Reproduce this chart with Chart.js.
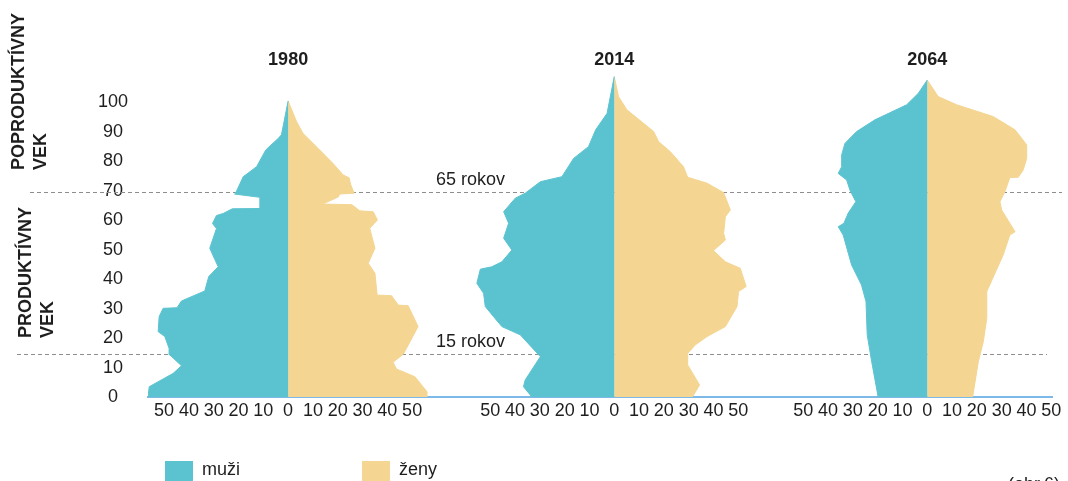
<!DOCTYPE html>
<html lang="sk">
<head>
<meta charset="utf-8">
<title>Veková pyramída 1980 – 2014 – 2064</title>
<script src="https://cdn.jsdelivr.net/npm/chart.js@4.4.1/dist/chart.umd.min.js"></script>
<style>
  html, body { margin: 0; padding: 0; background: #fff; }
  #wrap { width: 1068px; height: 481px; }
</style>
</head>
<body>
<div id="wrap"><canvas id="pyramid" width="1068" height="481"></canvas></div>
<script>
// --- data (age in years, population per age group) ---
const years = ['1980', '2014', '2064'];
const ageTicks = [0, 10, 20, 30, 40, 50, 60, 70, 80, 90, 100];
const xTickSteps = [-50, -40, -30, -20, -10, 0, 10, 20, 30, 40, 50];

const menAge1980 = [0, 3.5, 8, 10.6, 14.3, 16.5, 20.5, 22.2, 27.3, 30.1, 30.3, 32.6, 36, 40.9, 44.2, 50.5, 57.2, 58.9, 61.6, 62.3, 63.9, 64, 67.8, 68.9, 69.2, 74.8, 78.2, 83.9, 87.8, 89, 100.5];
const men1980 = [56.5, 56, 46.4, 43, 47.7, 48, 49.7, 52.4, 52, 50.4, 44.8, 43, 33.6, 32, 28.2, 31.6, 28.9, 30.5, 28.9, 26.2, 22.5, 11.4, 11.4, 21.6, 21.2, 18.1, 12.7, 9, 4, 2.7, 0];
const womenAge1980 = [0, 1.8, 6.9, 9.5, 11.8, 14.5, 16.5, 23.9, 31, 31.2, 34.4, 34.6, 42, 45.4, 50.5, 57.3, 60.1, 62.9, 63.2, 65.3, 65.5, 67.9, 68.9, 69.2, 72.2, 74.4, 75.4, 79.3, 84.4, 89.5, 93.5, 100.5];
const women1980 = [56, 56, 51.1, 43.7, 42.3, 46.4, 47.7, 52.4, 48.4, 44.4, 41.7, 35.9, 35, 32.3, 35, 32.9, 36, 34.3, 28.9, 25.7, 13.9, 20.2, 20.8, 26.6, 25.2, 24.6, 22.2, 18.1, 12.1, 6, 3.4, 0];

const menAge2014 = [0, 3.5, 5.8, 13.7, 21.1, 23.9, 27.3, 30.7, 35.2, 38.6, 43.4, 44.2, 45.9, 49.9, 53.9, 59, 62.9, 67.5, 69.2, 73.1, 74.8, 81, 85, 90.7, 96.3, 108.8];
const men2014 = [33.2, 36.6, 35.9, 29.8, 37.9, 45.3, 48.7, 52, 52.7, 55.4, 54, 49.4, 45.3, 41.3, 44.6, 42.6, 44.6, 39.9, 35.9, 29.8, 21.1, 16.4, 10.4, 7.5, 2.9, 0];
const womenAge2014 = [0, 4.1, 10.9, 14.8, 17.7, 20.5, 23.9, 30.7, 35.8, 37.5, 43.7, 45.9, 49.7, 53.3, 55.6, 61.2, 63.5, 69.4, 72.6, 74.6, 78.2, 83.3, 86.7, 90.1, 97.5, 102, 108.8];
const women2014 = [31.5, 34.4, 29.6, 29.6, 32.7, 37.4, 44.8, 49.5, 50.1, 53.2, 50.8, 44.8, 40, 44.8, 44.1, 44.8, 46.8, 44.1, 37.4, 29.6, 27.9, 22.6, 17.9, 15.9, 5.1, 1.7, 0];

const menAge2064 = [0, 12, 21.1, 32.4, 38, 44.8, 55, 57.8, 59, 62.4, 66.3, 70.3, 73.7, 75.9, 78.2, 82.2, 86.1, 90.1, 94.1, 99.2, 103.1, 107.6];
const men2064 = [19.8, 22.4, 24.2, 24.7, 26.5, 30.5, 33.9, 35.9, 33.6, 31.9, 28.8, 31.2, 32.5, 35.9, 34.5, 34.5, 33.2, 28.5, 21.1, 8.3, 3.6, 0];
const womenAge2064 = [0, 12, 18.8, 26.7, 35.8, 48.2, 55, 56.1, 63.5, 66.3, 69.7, 74.5, 74.6, 77.1, 81, 85.6, 90.7, 95.2, 99.2, 102, 107.6];
const women2064 = [18.3, 20.6, 22.6, 24, 24, 30.6, 33.3, 35.4, 30, 29.3, 31.3, 33.3, 36.7, 38.7, 40.1, 40.1, 35.4, 26.6, 11.9, 4.4, 0];

// guide lines (age where the dashed line sits) and their captions
const guideAges = [69.5, 14.5];
const guideLabels = ['65 rokov', '15 rokov'];

// --- layout ---
const panelCenters = [56.5, 188, 314.2];   // on the shared x scale
const xMax = 364.5;
const menColor = '#5bc3d0';
const womenColor = '#f4d592';
const textColor = '#1e1e1e';

Chart.defaults.font.family = "'Liberation Sans', Arial, Helvetica, sans-serif";
Chart.defaults.font.size = 18;
Chart.defaults.color = textColor;

const panelData = [
  [menAge1980, men1980, womenAge1980, women1980],
  [menAge2014, men2014, womenAge2014, women2014],
  [menAge2064, men2064, womenAge2064, women2064]
];

const datasets = [];
panelData.forEach(([mAge, m, wAge, w], p) => {
  const c = panelCenters[p];
  datasets.push({
    label: 'muži',
    data: mAge.map((a, i) => ({ x: c - m[i], y: a })),
    backgroundColor: menColor,
    borderColor: menColor,
    borderWidth: 1,
    pointRadius: 0,
    tension: 0,
    fill: { value: c }
  });
  datasets.push({
    label: 'ženy',
    data: wAge.map((a, i) => ({ x: c + w[i], y: a })),
    backgroundColor: womenColor,
    borderColor: womenColor,
    borderWidth: 1,
    pointRadius: 0,
    tension: 0,
    fill: { value: c }
  });
});

const pyramidDecor = {
  id: 'pyramidDecor',
  beforeDatasetsDraw(chart) {
    const { ctx } = chart;
    const y = chart.scales.y;
    const spans = [[30, 1062], [17, 1047]];
    ctx.save();
    ctx.strokeStyle = '#8d8d8d';
    ctx.lineWidth = 1;
    ctx.setLineDash([4, 3]);
    guideAges.forEach((age, i) => {
      const py = Math.round(y.getPixelForValue(age)) + 0.5;
      ctx.beginPath();
      ctx.moveTo(spans[i][0], py);
      ctx.lineTo(spans[i][1], py);
      ctx.stroke();
    });
    ctx.restore();
  },
  afterDraw(chart) {
    const { ctx } = chart;
    const x = chart.scales.x;
    const y = chart.scales.y;
    const font = Chart.defaults.font.family;
    ctx.save();
    ctx.fillStyle = textColor;

    // panel titles
    ctx.font = 'bold 18px ' + font;
    ctx.textAlign = 'center';
    ctx.textBaseline = 'middle';
    years.forEach((yr, i) => ctx.fillText(yr, x.getPixelForValue(panelCenters[i]), 60));

    // captions of the dashed lines
    ctx.font = '18px ' + font;
    ctx.textAlign = 'left';
    ctx.textBaseline = 'alphabetic';
    guideAges.forEach((age, i) => ctx.fillText(guideLabels[i], 436, y.getPixelForValue(age) - 7));

    // vertical group labels
    ctx.font = 'bold 18px ' + font;
    ctx.textBaseline = 'middle';
    const groups = [
      { lines: ['POPRODUKTÍVNY', 'VEK'], bottom: 170, xs: [19, 41] },
      { lines: ['PRODUKTÍVNY', 'VEK'], bottom: 338, xs: [26, 48] }
    ];
    groups.forEach(g => {
      g.lines.forEach((t, i) => {
        ctx.save();
        ctx.translate(g.xs[i], g.bottom);
        ctx.rotate(-Math.PI / 2);
        ctx.fillText(t, 0, 0);
        ctx.restore();
      });
    });

    // legend
    ctx.font = '18px ' + font;
    ctx.textBaseline = 'alphabetic';
    [[165, 0], [362, 1]].forEach(([lx, di]) => {
      const ds = chart.data.datasets[di];
      ctx.fillStyle = ds.backgroundColor;
      ctx.fillRect(lx, 461, 28, 24);
      ctx.fillStyle = textColor;
      ctx.fillText(ds.label, lx + 37, 475);
    });

    ctx.fillText('(obr.6)', 1008, 490);
    ctx.restore();
  }
};

new Chart(document.getElementById('pyramid'), {
  type: 'line',
  data: { datasets },
  plugins: [pyramidDecor],
  options: {
    responsive: false,
    animation: false,
    indexAxis: 'y',
    layout: { padding: { left: 0, right: 16, top: 73, bottom: 0 } },
    plugins: {
      legend: { display: false },
      tooltip: { enabled: false }
    },
    scales: {
      x: {
        type: 'linear',
        position: 'bottom',
        min: 0,
        max: xMax,
        grid: { display: false, drawTicks: false },
        border: { display: true, color: '#7db9e8', width: 2 },
        afterBuildTicks: scale => {
          scale.ticks = panelCenters.flatMap(c => xTickSteps.map(s => ({ value: c + s })));
        },
        afterFit: scale => { scale.height = 84; },
        ticks: {
          autoSkip: false,
          maxRotation: 0,
          minRotation: 0,
          padding: 3,
          color: textColor,
          callback: (v, i) => String(Math.abs(xTickSteps[i % xTickSteps.length]))
        }
      },
      y: {
        type: 'linear',
        position: 'left',
        min: 0,
        max: 110,
        grid: { display: false, drawTicks: false },
        border: { display: false },
        afterBuildTicks: scale => {
          scale.ticks = ageTicks.map(v => ({ value: v }));
        },
        afterFit: scale => { scale.width = 148; },
        ticks: {
          crossAlign: 'center',
          padding: 20,
          color: textColor,
          callback: v => String(v)
        }
      }
    }
  }
});
</script>
</body>
</html>
